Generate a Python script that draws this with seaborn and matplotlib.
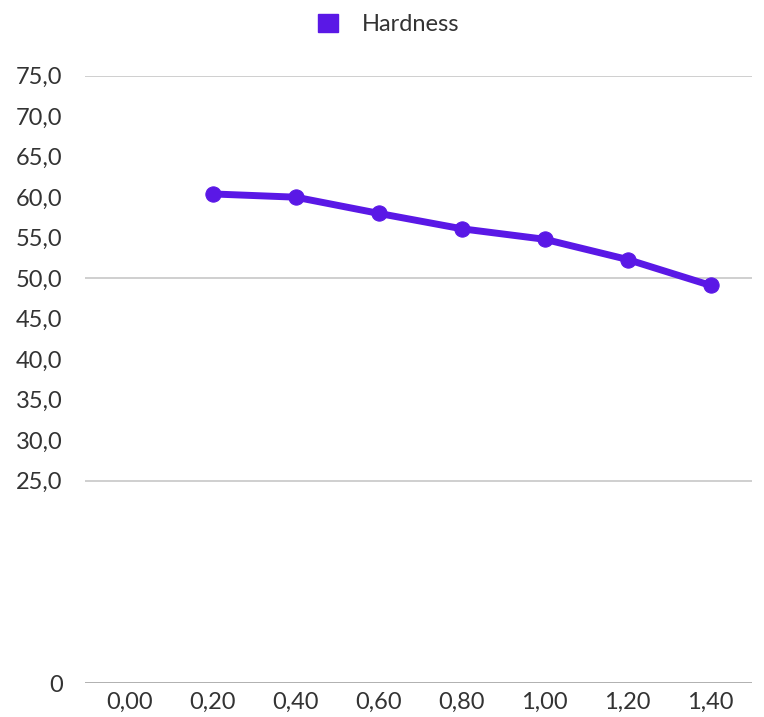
import matplotlib
matplotlib.use('Agg')
import matplotlib.pyplot as plt
import seaborn as sns
import pandas as pd
from matplotlib.patches import Patch

# Data
x_values = [0.20, 0.40, 0.60, 0.80, 1.00, 1.20, 1.40]
hardness = [60.4, 60.0, 58.0, 56.1, 54.8, 52.3, 49.1]
x_ticks = [0.00, 0.20, 0.40, 0.60, 0.80, 1.00, 1.20, 1.40]
y_ticks = [0, 25, 30, 35, 40, 45, 50, 55, 60, 65, 70, 75]
grid_levels = [0, 25, 50, 75]

df = pd.DataFrame({'x': x_values, 'Hardness': hardness})

sns.set_style('white')
plt.rcParams['font.family'] = ['Lato', 'DejaVu Sans']

line_color = '#5a18e6'
text_color = '#333333'

fig = plt.figure(figsize=(7.64, 7.17), dpi=100)
ax = fig.add_axes([0.111, 0.0474, 0.873, 0.847])

# light horizontal guide lines
for g in grid_levels:
    ax.axhline(g, color='#aaaaaa' if g == 0 else '#cccccc', lw=1.3, zorder=0)

sns.lineplot(data=df, x='x', y='Hardness', ax=ax, color=line_color,
             linewidth=5, marker='o', markersize=11, markeredgecolor=line_color)

ax.set_xlim(-0.108, 1.499)
ax.set_ylim(0, 75)
ax.set_xticks(x_ticks)
ax.set_xticklabels([f'{v:.2f}'.replace('.', ',') for v in x_ticks])
ax.set_yticks(y_ticks)
ax.set_yticklabels(['0' if v == 0 else f'{v:.1f}'.replace('.', ',') for v in y_ticks])
ax.tick_params(axis='both', length=0, labelsize=17, colors=text_color)
ax.tick_params(axis='y', pad=16)
ax.tick_params(axis='x', pad=6)
ax.set_xlabel('')
ax.set_ylabel('')
for s in ax.spines.values():
    s.set_visible(False)

handle = Patch(facecolor=line_color, edgecolor=line_color)
fig.legend([handle], ['Hardness'], loc='center', bbox_to_anchor=(0.509, 0.966),
           frameon=False, fontsize=17, handlelength=0.85, handleheight=0.85,
           handletextpad=1.0, labelcolor=text_color)

plt.savefig('out.png', dpi=100)
